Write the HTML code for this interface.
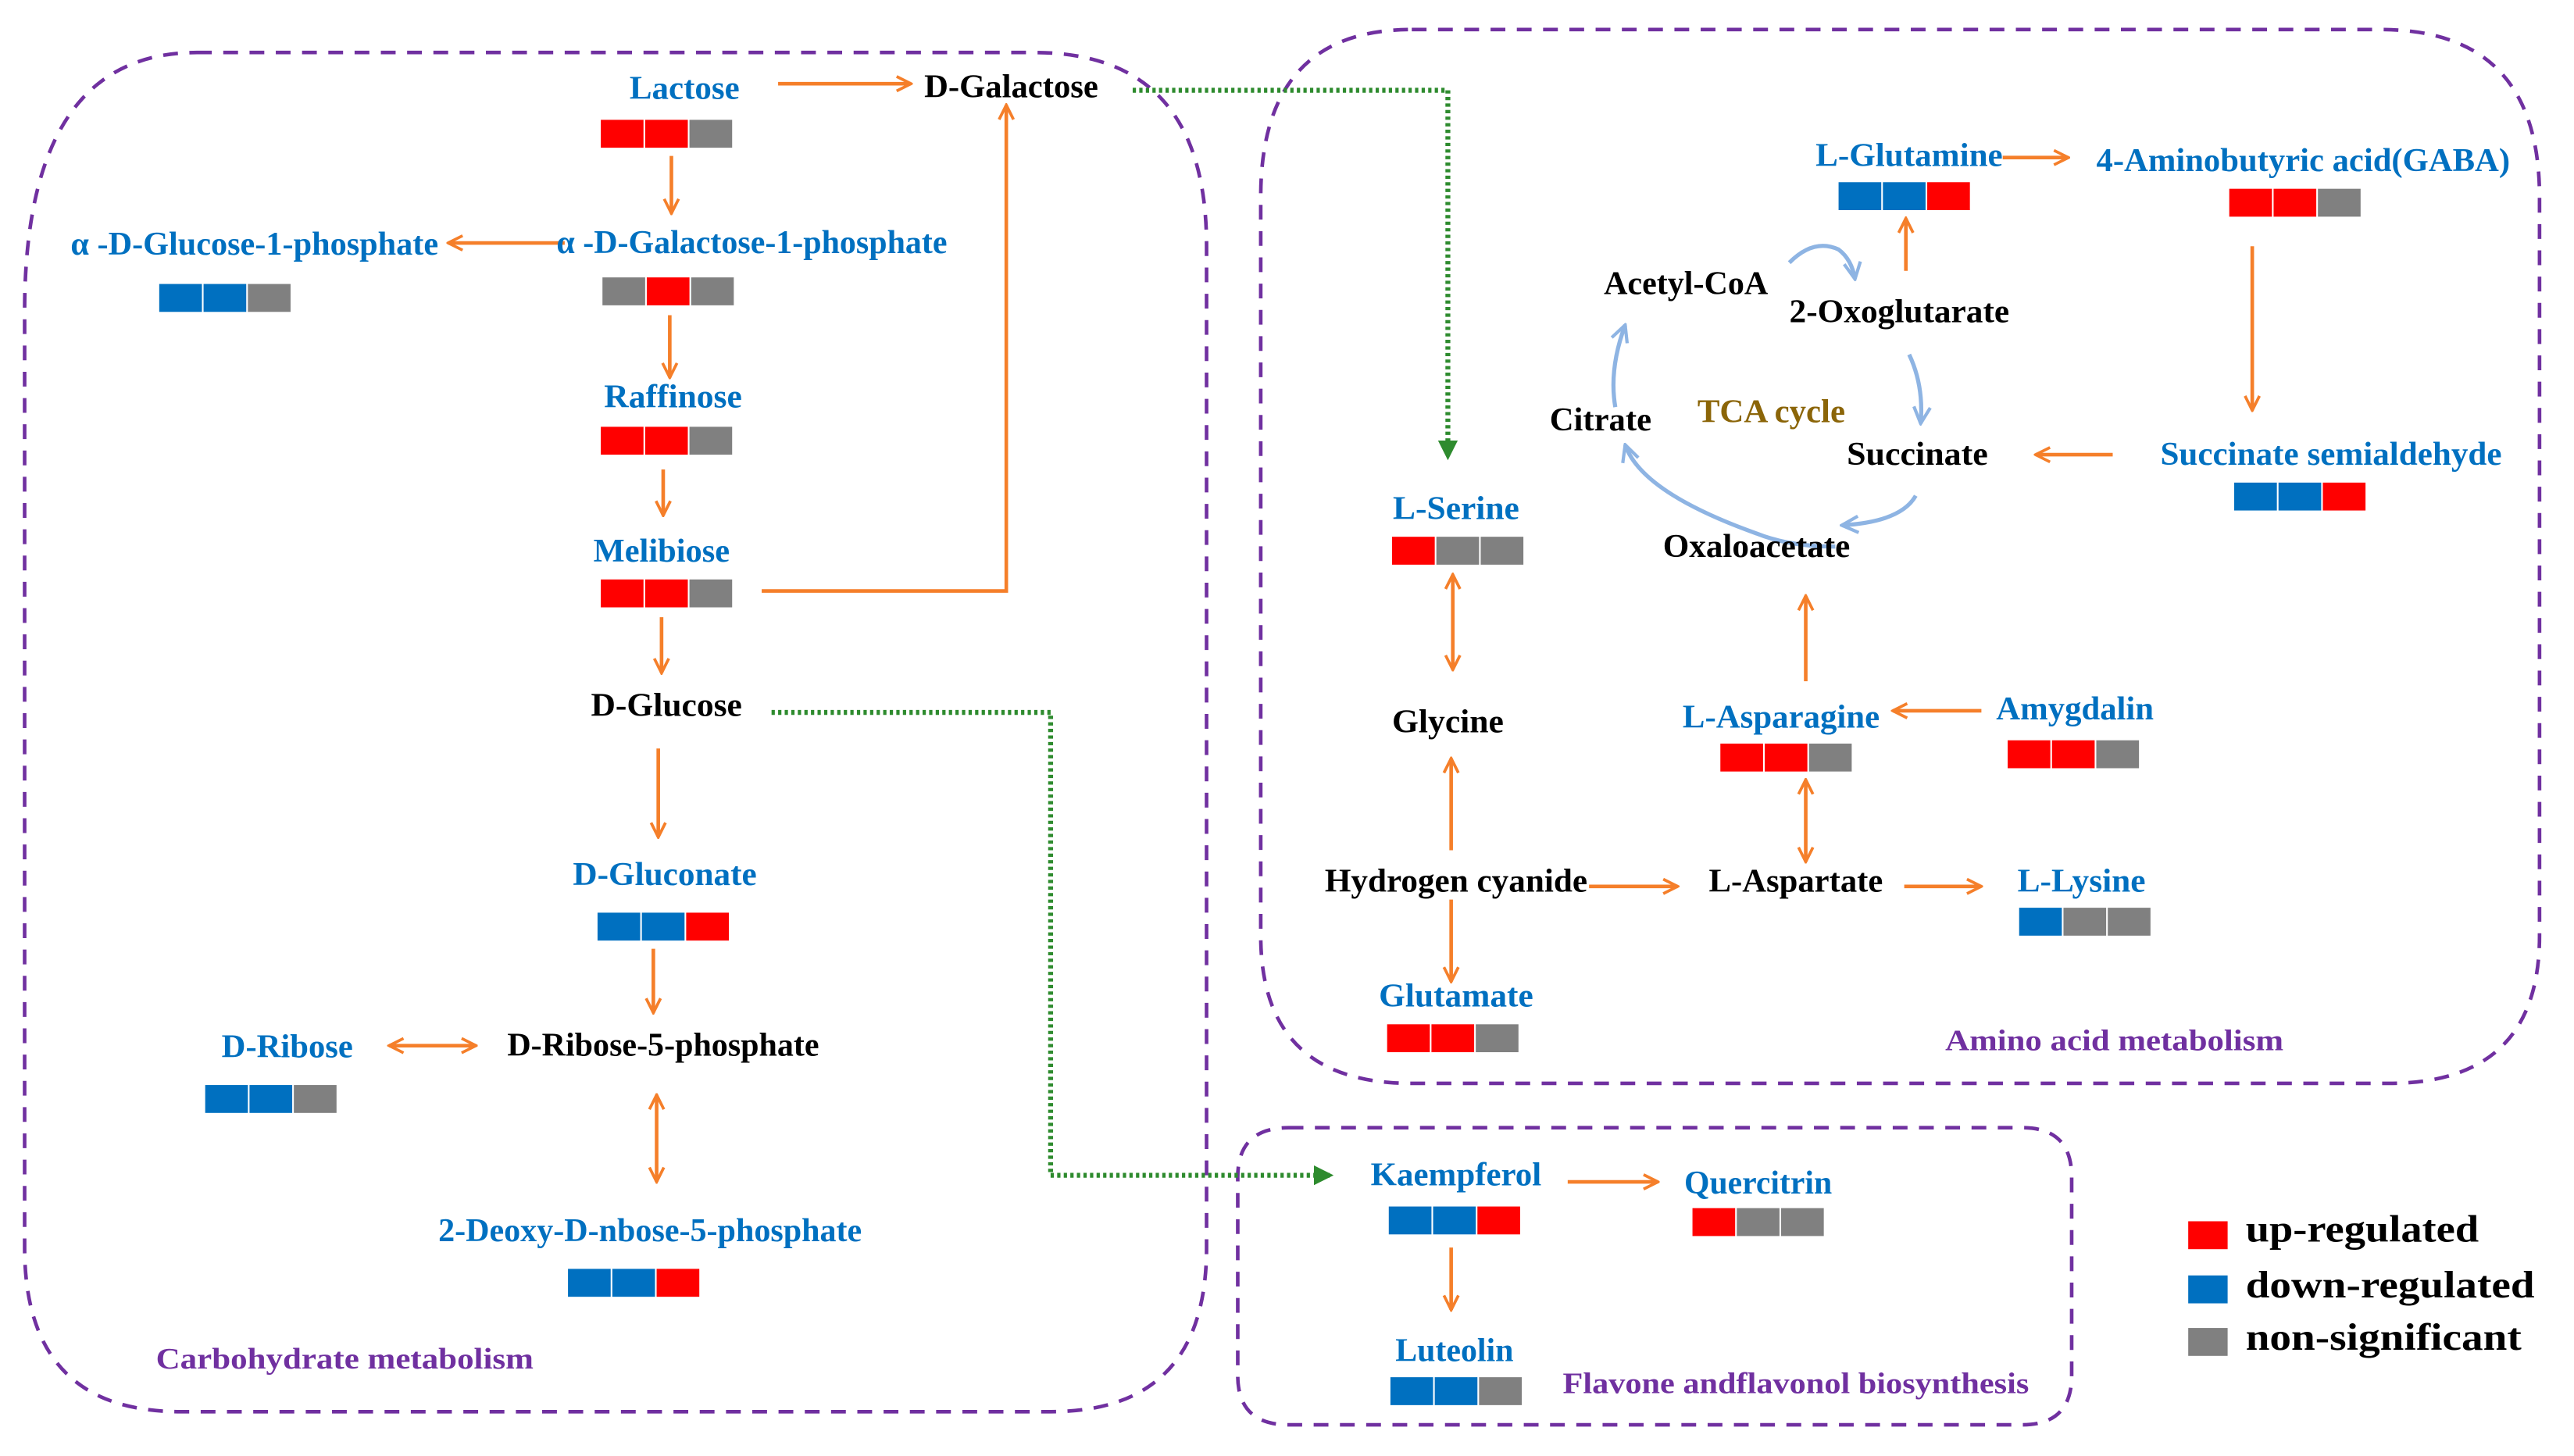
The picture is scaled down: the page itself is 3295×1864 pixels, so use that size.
<!DOCTYPE html>
<html><head><meta charset="utf-8"><style>
html,body{margin:0;padding:0;background:#fff;}
svg{display:block;}
text{font-family:"Liberation Serif",serif;font-weight:bold;font-size:20px;text-anchor:middle;dominant-baseline:central;}
.b{fill:#0070C0}.k{fill:#000}.p{fill:#7030A0;font-size:18px}
.o{stroke:#F57F2A;stroke-width:2.2;fill:none;marker-end:url(#ah)}
.d{marker-start:url(#ahs)}
.t{stroke:#8EB4E3;stroke-width:2.5;fill:none;marker-end:url(#at)}
.g{stroke:#2E8B2E;stroke-width:3;fill:none;stroke-dasharray:2 2}
.box{fill:none;stroke:#7030A0;stroke-width:2.2;stroke-dasharray:9 7}
</style></head><body>
<svg width="3295" height="1864" viewBox="0 0 1568 887" preserveAspectRatio="none" xmlns="http://www.w3.org/2000/svg">
<defs>
<marker id="ah" viewBox="0 0 10 10" refX="9" refY="5" markerWidth="5" markerHeight="5" orient="auto" markerUnits="strokeWidth"><path d="M1,1 L9,5 L1,9" fill="none" stroke="#F57F2A" stroke-width="1.6"/></marker>
<marker id="ahs" viewBox="0 0 10 10" refX="9" refY="5" markerWidth="5" markerHeight="5" orient="auto-start-reverse" markerUnits="strokeWidth"><path d="M1,1 L9,5 L1,9" fill="none" stroke="#F57F2A" stroke-width="1.6"/></marker>
<marker id="at" viewBox="0 0 10 10" refX="9" refY="5" markerWidth="5" markerHeight="5" orient="auto" markerUnits="strokeWidth"><path d="M1,1 L9,5 L1,9" fill="none" stroke="#8EB4E3" stroke-width="1.6"/></marker>
<marker id="ag" viewBox="0 0 10 10" refX="8" refY="5" markerWidth="4" markerHeight="4" orient="auto" markerUnits="strokeWidth"><path d="M0,0 L10,5 L0,10 Z" fill="#2E8B2E"/></marker>
</defs>

<path class="box" d="M120,32 H630 Q735,32 735,150 V760 Q735,860 640,860 H110 Q15,860 15,760 V190 Q15,32 120,32 Z"/>
<path class="box" d="M860,18 H1450 Q1547,18 1547,120 V570 Q1547,660 1455,660 H860 Q768,660 768,570 V120 Q768,18 860,18 Z"/>
<path class="box" d="M785,687 H1232 Q1262,687 1262,717 V838 Q1262,868 1232,868 H785 Q754,868 754,838 V717 Q754,687 785,687 Z"/>

<path class="g" d="M690,55 H882 V278" marker-end="url(#ag)"/>
<path class="g" d="M470,434 H640 V716 H810" marker-end="url(#ag)"/>

<line class="o" x1="474" y1="51" x2="555" y2="51"/>
<line class="o" x1="409" y1="95" x2="409" y2="130"/>
<line class="o" x1="344" y1="148" x2="273" y2="148"/>
<line class="o" x1="408" y1="192" x2="408" y2="230"/>
<line class="o" x1="404" y1="286" x2="404" y2="314"/>
<path class="o" d="M464,360 H613 V64"/>
<line class="o" x1="403" y1="376" x2="403" y2="410"/>
<line class="o" x1="401" y1="456" x2="401" y2="510"/>
<line class="o" x1="398" y1="578" x2="398" y2="617"/>
<line class="o d" x1="237" y1="637" x2="290" y2="637"/>
<line class="o d" x1="400" y1="667" x2="400" y2="720"/>
<line class="o d" x1="885" y1="350" x2="885" y2="408"/>
<line class="o" x1="884" y1="518" x2="884" y2="462"/>
<line class="o" x1="884" y1="548" x2="884" y2="598"/>
<line class="o" x1="968" y1="540" x2="1022" y2="540"/>
<line class="o d" x1="1100" y1="475" x2="1100" y2="525"/>
<line class="o" x1="1207" y1="433" x2="1153" y2="433"/>
<line class="o" x1="1160" y1="540" x2="1207" y2="540"/>
<line class="o" x1="1100" y1="415" x2="1100" y2="363"/>
<line class="o" x1="1161" y1="165" x2="1161" y2="133"/>
<line class="o" x1="1220" y1="96" x2="1260" y2="96"/>
<line class="o" x1="1372" y1="150" x2="1372" y2="250"/>
<line class="o" x1="1287" y1="277" x2="1240" y2="277"/>
<line class="o" x1="955" y1="720" x2="1010" y2="720"/>
<line class="o" x1="884" y1="760" x2="884" y2="798"/>

<path class="t" d="M1090,160 Q1105,145 1120,152 Q1128,158 1130,170"/>
<path class="t" d="M1163,216 Q1172,235 1170,258"/>
<path class="t" d="M1167,302 Q1158,318 1122,320"/>
<path class="t" d="M1118,333 Q1090,333 1070,325 Q1000,300 990,271"/>
<path class="t" d="M984,248 Q980,225 990,198"/>

<text class="b" x="417" y="54" textLength="67" lengthAdjust="spacingAndGlyphs">Lactose</text>
<text class="k" x="616" y="53" textLength="106" lengthAdjust="spacingAndGlyphs">D-Galactose</text>
<text class="b" x="458" y="148" textLength="238" lengthAdjust="spacingAndGlyphs">α -D-Galactose-1-phosphate</text>
<text class="b" x="155" y="149" textLength="224" lengthAdjust="spacingAndGlyphs">α -D-Glucose-1-phosphate</text>
<text class="b" x="410" y="242" textLength="84" lengthAdjust="spacingAndGlyphs">Raffinose</text>
<text class="b" x="403" y="336" textLength="83" lengthAdjust="spacingAndGlyphs">Melibiose</text>
<text class="k" x="406" y="430" textLength="92" lengthAdjust="spacingAndGlyphs">D-Glucose</text>
<text class="b" x="405" y="533" textLength="112" lengthAdjust="spacingAndGlyphs">D-Gluconate</text>
<text class="b" x="175" y="638" textLength="80" lengthAdjust="spacingAndGlyphs">D-Ribose</text>
<text class="k" x="404" y="637" textLength="190" lengthAdjust="spacingAndGlyphs">D-Ribose-5-phosphate</text>
<text class="b" x="396" y="750" textLength="258" lengthAdjust="spacingAndGlyphs">2-Deoxy-D-nbose-5-phosphate</text>
<text class="p" x="210" y="828" textLength="230" lengthAdjust="spacingAndGlyphs">Carbohydrate metabolism</text>

<text class="b" x="887" y="310" textLength="77" lengthAdjust="spacingAndGlyphs">L-Serine</text>
<text class="k" x="882" y="440" textLength="68" lengthAdjust="spacingAndGlyphs">Glycine</text>
<text class="k" x="887" y="537" textLength="160" lengthAdjust="spacingAndGlyphs">Hydrogen cyanide</text>
<text class="b" x="887" y="607" textLength="94" lengthAdjust="spacingAndGlyphs">Glutamate</text>
<text class="k" x="1094" y="537" textLength="106" lengthAdjust="spacingAndGlyphs">L-Aspartate</text>
<text class="b" x="1085" y="437" textLength="120" lengthAdjust="spacingAndGlyphs">L-Asparagine</text>
<text class="b" x="1264" y="432" textLength="96" lengthAdjust="spacingAndGlyphs">Amygdalin</text>
<text class="b" x="1268" y="537" textLength="78" lengthAdjust="spacingAndGlyphs">L-Lysine</text>
<text class="k" x="1070" y="333" textLength="114" lengthAdjust="spacingAndGlyphs">Oxaloacetate</text>
<text class="k" x="1168" y="277" textLength="86" lengthAdjust="spacingAndGlyphs">Succinate</text>
<text class="k" x="975" y="256" textLength="62" lengthAdjust="spacingAndGlyphs">Citrate</text>
<text x="1079" y="251" style="fill:#8B6508" textLength="90" lengthAdjust="spacingAndGlyphs">TCA cycle</text>
<text class="k" x="1027" y="173" textLength="100" lengthAdjust="spacingAndGlyphs">Acetyl-CoA</text>
<text class="k" x="1157" y="190" textLength="134" lengthAdjust="spacingAndGlyphs">2-Oxoglutarate</text>
<text class="b" x="1163" y="95" textLength="114" lengthAdjust="spacingAndGlyphs">L-Glutamine</text>
<text class="b" x="1403" y="98" textLength="252" lengthAdjust="spacingAndGlyphs">4-Aminobutyric acid(GABA)</text>
<text class="b" x="1420" y="277" textLength="208" lengthAdjust="spacingAndGlyphs">Succinate semialdehyde</text>
<text class="p" x="1288" y="634" textLength="206" lengthAdjust="spacingAndGlyphs">Amino acid metabolism</text>

<text class="b" x="887" y="716" textLength="104" lengthAdjust="spacingAndGlyphs">Kaempferol</text>
<text class="b" x="1071" y="721" textLength="90" lengthAdjust="spacingAndGlyphs">Quercitrin</text>
<text class="b" x="886" y="823" textLength="72" lengthAdjust="spacingAndGlyphs">Luteolin</text>
<text class="p" x="1094" y="843" textLength="284" lengthAdjust="spacingAndGlyphs">Flavone andflavonol biosynthesis</text>

<rect x="1333" y="744" width="24" height="17" fill="#FF0000"/>
<rect x="1333" y="777" width="24" height="17" fill="#0070C0"/>
<rect x="1333" y="809" width="24" height="17" fill="#808080"/>
<text class="k" x="1368" y="749" style="text-anchor:start;font-size:23px" textLength="142" lengthAdjust="spacingAndGlyphs">up-regulated</text>
<text class="k" x="1368" y="783" style="text-anchor:start;font-size:23px" textLength="176" lengthAdjust="spacingAndGlyphs">down-regulated</text>
<text class="k" x="1368" y="815" style="text-anchor:start;font-size:23px" textLength="168" lengthAdjust="spacingAndGlyphs">non-significant</text>

<g>
<rect x="366" y="73" width="26" height="17" fill="#F00"/><rect x="393" y="73" width="26" height="17" fill="#F00"/><rect x="420" y="73" width="26" height="17" fill="#808080"/>
<rect x="367" y="169" width="26" height="17" fill="#808080"/><rect x="394" y="169" width="26" height="17" fill="#F00"/><rect x="421" y="169" width="26" height="17" fill="#808080"/>
<rect x="97" y="173" width="26" height="17" fill="#0070C0"/><rect x="124" y="173" width="26" height="17" fill="#0070C0"/><rect x="151" y="173" width="26" height="17" fill="#808080"/>
<rect x="366" y="260" width="26" height="17" fill="#F00"/><rect x="393" y="260" width="26" height="17" fill="#F00"/><rect x="420" y="260" width="26" height="17" fill="#808080"/>
<rect x="366" y="353" width="26" height="17" fill="#F00"/><rect x="393" y="353" width="26" height="17" fill="#F00"/><rect x="420" y="353" width="26" height="17" fill="#808080"/>
<rect x="364" y="556" width="26" height="17" fill="#0070C0"/><rect x="391" y="556" width="26" height="17" fill="#0070C0"/><rect x="418" y="556" width="26" height="17" fill="#F00"/>
<rect x="125" y="661" width="26" height="17" fill="#0070C0"/><rect x="152" y="661" width="26" height="17" fill="#0070C0"/><rect x="179" y="661" width="26" height="17" fill="#808080"/>
<rect x="346" y="773" width="26" height="17" fill="#0070C0"/><rect x="373" y="773" width="26" height="17" fill="#0070C0"/><rect x="400" y="773" width="26" height="17" fill="#F00"/>
<rect x="848" y="327" width="26" height="17" fill="#F00"/><rect x="875" y="327" width="26" height="17" fill="#808080"/><rect x="902" y="327" width="26" height="17" fill="#808080"/>
<rect x="845" y="624" width="26" height="17" fill="#F00"/><rect x="872" y="624" width="26" height="17" fill="#F00"/><rect x="899" y="624" width="26" height="17" fill="#808080"/>
<rect x="1048" y="453" width="26" height="17" fill="#F00"/><rect x="1075" y="453" width="26" height="17" fill="#F00"/><rect x="1102" y="453" width="26" height="17" fill="#808080"/>
<rect x="1223" y="451" width="26" height="17" fill="#F00"/><rect x="1250" y="451" width="26" height="17" fill="#F00"/><rect x="1277" y="451" width="26" height="17" fill="#808080"/>
<rect x="1230" y="553" width="26" height="17" fill="#0070C0"/><rect x="1257" y="553" width="26" height="17" fill="#808080"/><rect x="1284" y="553" width="26" height="17" fill="#808080"/>
<rect x="1120" y="111" width="26" height="17" fill="#0070C0"/><rect x="1147" y="111" width="26" height="17" fill="#0070C0"/><rect x="1174" y="111" width="26" height="17" fill="#F00"/>
<rect x="1358" y="115" width="26" height="17" fill="#F00"/><rect x="1385" y="115" width="26" height="17" fill="#F00"/><rect x="1412" y="115" width="26" height="17" fill="#808080"/>
<rect x="1361" y="294" width="26" height="17" fill="#0070C0"/><rect x="1388" y="294" width="26" height="17" fill="#0070C0"/><rect x="1415" y="294" width="26" height="17" fill="#F00"/>
<rect x="846" y="735" width="26" height="17" fill="#0070C0"/><rect x="873" y="735" width="26" height="17" fill="#0070C0"/><rect x="900" y="735" width="26" height="17" fill="#F00"/>
<rect x="1031" y="736" width="26" height="17" fill="#F00"/><rect x="1058" y="736" width="26" height="17" fill="#808080"/><rect x="1085" y="736" width="26" height="17" fill="#808080"/>
<rect x="847" y="839" width="26" height="17" fill="#0070C0"/><rect x="874" y="839" width="26" height="17" fill="#0070C0"/><rect x="901" y="839" width="26" height="17" fill="#808080"/>
</g>
</svg>
</body></html>
